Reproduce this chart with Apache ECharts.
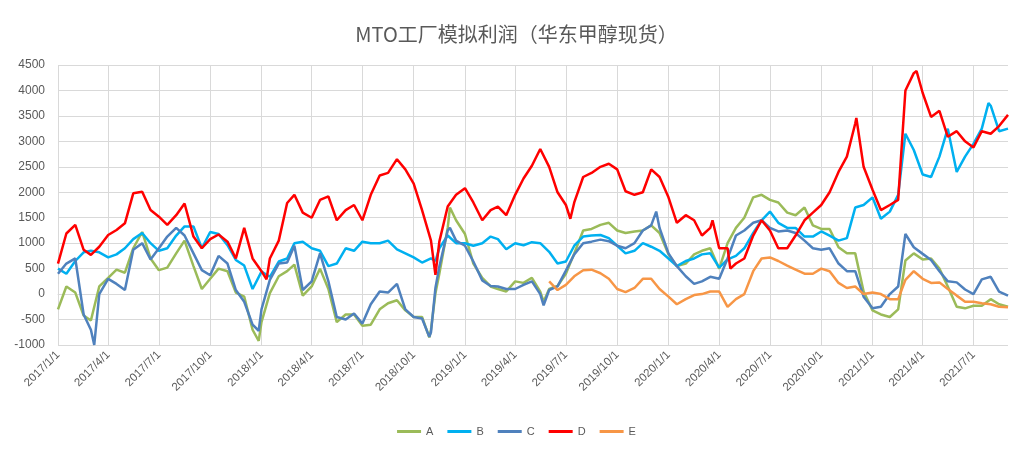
<!DOCTYPE html>
<html><head><meta charset="utf-8">
<script src="https://cdn.jsdelivr.net/npm/echarts/dist/echarts.min.js"></script>
<style>html,body{margin:0;padding:0;background:#fff}#c{width:1033px;height:449px}</style>
</head><body><div id="c"></div>
<script>
// ---- data ----
const dates = ['2017-01-01','2017-01-16','2017-02-01','2017-02-16','2017-03-01','2017-03-07','2017-03-16','2017-04-01','2017-04-16','2017-05-01','2017-05-16','2017-06-01','2017-06-16','2017-07-01','2017-07-16','2017-08-01','2017-08-16','2017-09-01','2017-09-16','2017-10-01','2017-10-16','2017-11-01','2017-11-16','2017-12-01','2017-12-16','2017-12-27',
'2018-01-01','2018-01-10','2018-01-16','2018-02-01','2018-02-16','2018-03-01','2018-03-16','2018-04-01','2018-04-16','2018-05-01','2018-05-16','2018-06-01','2018-06-16','2018-07-01','2018-07-16','2018-08-01','2018-08-16','2018-09-01','2018-09-16','2018-10-01','2018-10-16','2018-10-29','2018-11-01','2018-11-09','2018-11-16','2018-12-01','2018-12-05','2018-12-16',
'2019-01-01','2019-01-16','2019-02-01','2019-02-16','2019-03-01','2019-03-16','2019-04-01','2019-04-16','2019-05-01','2019-05-16','2019-05-22','2019-06-01','2019-06-16','2019-07-01','2019-07-09','2019-07-16','2019-08-01','2019-08-16','2019-09-01','2019-09-16','2019-10-01','2019-10-16','2019-11-01','2019-11-16','2019-12-01','2019-12-10','2019-12-16',
'2020-01-01','2020-01-16','2020-02-01','2020-02-16','2020-03-01','2020-03-16','2020-03-20','2020-04-01','2020-04-16','2020-04-21','2020-05-01','2020-05-16','2020-06-01','2020-06-16','2020-07-01','2020-07-16','2020-08-01','2020-08-16','2020-09-01','2020-09-16','2020-10-01','2020-10-16','2020-11-01','2020-11-16','2020-12-01','2020-12-03','2020-12-16',
'2021-01-01','2021-01-16','2021-02-01','2021-02-16','2021-03-01','2021-03-16','2021-03-21','2021-04-01','2021-04-16','2021-05-01','2021-05-16','2021-06-01','2021-06-16','2021-07-01','2021-07-16','2021-07-28','2021-08-01','2021-08-16','2021-09-01'];

const A = [-300,150,30,-420,-520,null,150,320,480,420,900,1220,700,470,520,800,1050,550,100,300,500,450,30,-50,-700,-920,
-550,null,20,350,450,580,-30,150,500,100,-550,-400,-400,-620,-600,-300,-180,-120,-320,-450,-450,-850,-700,15,400,1300,1700,1450,
1180,600,320,150,100,50,250,220,320,50,-150,100,160,400,null,800,1250,1280,1360,1400,1250,1200,1230,1250,1350,null,1200,
780,550,600,780,850,900,null,500,1000,null,1300,1500,1900,1950,1850,1800,1600,1550,1700,1350,1280,1280,920,800,800,null,50,
-320,-400,-450,-300,660,800,null,680,700,500,150,-250,-280,-230,-230,null,-100,-200,-250];

const B = [500,400,650,820,850,null,820,720,780,900,1080,1200,1000,850,900,1150,1330,1330,900,1220,1180,960,670,560,100,null,
440,null,340,640,700,1000,1030,900,850,550,600,900,850,1030,1000,1000,1050,880,800,720,620,null,700,650,900,1150,null,1000,
1000,950,1000,1130,1080,880,1000,960,1020,1000,null,830,600,640,null,950,1130,1150,1160,1100,950,800,850,1000,930,null,850,
700,550,650,700,780,800,null,520,680,null,750,900,1200,1450,1620,1400,1300,1300,1130,1130,1230,1150,1050,1100,1700,null,1750,
1900,1480,1620,1950,3150,2830,null,2350,2300,2700,3250,2400,2700,2950,3250,3750,3700,3200,3250];

const C = [400,600,700,-400,-700,-1000,0,300,200,80,870,1000,680,900,1130,1300,1150,800,470,370,750,600,80,-150,-600,-720,
-300,null,280,600,620,950,80,250,800,250,-450,-500,-380,-580,-200,50,30,200,-300,-450,-480,-840,-750,120,540,1250,1300,1050,
950,640,270,160,150,100,100,180,250,0,-220,80,150,460,null,780,1000,1030,1070,1040,950,900,1000,1250,1350,1620,1300,
800,550,350,200,250,340,null,300,700,null,1150,1250,1400,1450,1300,1230,1250,1200,1050,900,870,900,600,450,450,null,-50,
-280,-250,0,150,1180,920,null,790,670,450,250,230,90,0,290,null,340,50,-30];

const D = [600,1190,1360,870,770,null,930,1160,1260,1390,1980,2010,1650,1520,1360,1550,1780,1130,900,1080,1170,1030,700,1300,700,null,
450,290,700,1050,1790,1950,1600,1500,1850,1920,1450,1650,1750,1450,1950,2330,2380,2650,2450,2170,1650,null,1050,380,1030,1720,null,1950,
2080,1800,1450,1650,1720,1550,1950,2270,2520,2850,null,2500,2000,1750,1480,1800,2300,2380,2500,2560,2450,2020,1950,2000,2450,null,2300,
1900,1400,1550,1450,1150,1300,1450,900,900,500,600,700,1150,1450,1250,900,900,1150,1450,1600,1750,2000,2400,2700,3350,3460,2500,
2050,1650,1750,1850,4000,4340,4380,3950,3480,3600,3090,3200,3000,2880,3200,null,3150,3300,3520];

const E = [null,null,null,null,null,null,null,null,null,null,null,null,null,null,null,null,null,null,null,null,null,null,null,null,null,null,
null,null,null,null,null,null,null,null,null,null,null,null,null,null,null,null,null,null,null,null,null,null,null,null,null,null,null,null,
null,null,null,null,null,null,null,null,null,null,null,250,80,180,null,350,470,480,410,300,100,40,120,300,300,null,100,
-50,-200,-100,-20,0,50,null,50,-250,null,-100,0,450,700,720,650,560,480,400,400,500,450,220,120,150,null,0,
30,0,-100,-100,280,450,null,300,220,230,100,-30,-150,-150,-180,null,-200,-250,-260];

const seriesNames = ['A','B','C','D','E'];
const seriesValues = [A,B,C,D,E];
const colors = ['#9BBB59','#00B0F0','#4F81BD','#FF0000','#F79646'];
const yMin = -1000, yMax = 4500, yStep = 500;
const startDate = '2017-01-01', endDate = '2021-09-01';

// ---- build daily category axis ----
function toUTC(s){const p=s.split('-');return Date.UTC(+p[0],+p[1]-1,+p[2]);}
const DAY = 86400000;
const t0 = toUTC(startDate), t1 = toUTC(endDate);
const cats = [];
for (let t=t0; t<=t1; t+=DAY){
  const d = new Date(t);
  cats.push(d.getUTCFullYear()+'/'+(d.getUTCMonth()+1)+'/'+d.getUTCDate());
}
function isQuarterStart(i){
  const p = cats[i].split('/');
  return +p[2]===1 && ((+p[1])-1)%3===0;
}
const series = seriesNames.map((name,k)=>({
  name, type:'line', symbol:'none', showSymbol:false,
  lineStyle:{width:2.5, color:colors[k]}, itemStyle:{color:colors[k]},
  emphasis:{disabled:true},
  data: dates.map((d,i)=>[Math.round((toUTC(d)-t0)/DAY), seriesValues[k][i]]).filter(p=>p[1]!==null)
}));

const chart = echarts.init(document.getElementById('c'), null, {renderer:'canvas'});
chart.setOption({
  animation:false,
  backgroundColor:'#fff',
  title:{text:'MTO工厂模拟利润（华东甲醇现货）', left:'center', top:19,
    textStyle:{fontSize:20, fontWeight:'normal', color:'#595959', fontFamily:'Noto Sans CJK SC'}},
  legend:{data:seriesNames, left:'center', top:421, icon:'rect', itemWidth:24, itemHeight:3, itemGap:14,
    textStyle:{fontSize:11, color:'#595959', fontFamily:'Liberation Sans'}},
  grid:{left:58, right:25, top:65, bottom:104, containLabel:false, outerBoundsMode:'none'},
  xAxis:{type:'category', data:cats, boundaryGap:false,
    axisLine:{show:true, lineStyle:{color:'#d9d9d9', width:1}},
    axisTick:{show:false, interval:isQuarterStart},
    axisLabel:{interval:isQuarterStart, rotate:45, color:'#595959', fontSize:11.5, margin:8, fontFamily:'Liberation Sans'},
    splitLine:{show:true, interval:isQuarterStart, lineStyle:{color:'#d9d9d9', width:1}}},
  yAxis:{type:'value', min:yMin, max:yMax, interval:yStep,
    axisLine:{show:false}, axisTick:{show:false},
    axisLabel:{color:'#595959', fontSize:12, margin:13, fontFamily:'Liberation Sans', formatter:v=>String(v)},
    splitLine:{lineStyle:{color:'#d9d9d9', width:1}}},
  series
});
</script></body></html>
